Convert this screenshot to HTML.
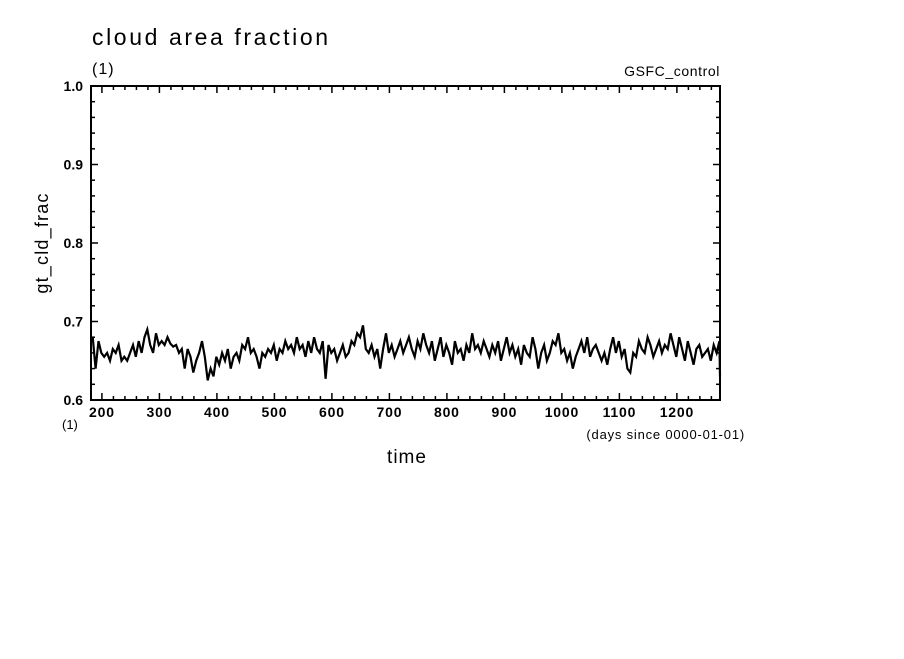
<!DOCTYPE html>
<html><head><meta charset="utf-8"><style>
body{margin:0;background:#fff;}
svg text{font-family:"Liberation Sans",sans-serif;fill:#000;}
</style></head><body>
<svg id="chart" width="904" height="654" xmlns="http://www.w3.org/2000/svg">
<rect width="904" height="654" fill="#fff"/>
<text x="92" y="45" font-size="23" letter-spacing="2.6">cloud area fraction</text>
<text x="92" y="74" font-size="16" letter-spacing="1">(1)</text>
<text x="720" y="76" font-size="14" text-anchor="end" letter-spacing="0.6">GSFC_control</text>
<text transform="translate(48,243) rotate(-90)" font-size="18" text-anchor="middle" letter-spacing="1.2">gt_cld_frac</text>
<text x="407" y="463" font-size="19" text-anchor="middle" letter-spacing="1">time</text>
<text x="62" y="429" font-size="13">(1)</text>
<text x="745" y="439" font-size="13" text-anchor="end" letter-spacing="0.8">(days since 0000-01-01)</text>
<g id="axes"></g>
<path id="series" fill="none" stroke="#000" stroke-width="2.2" stroke-linejoin="miter"/>
</svg>
<script>
const xStart = 182;
const xStep = 5;
const values = [
0.68,0.64,0.675,0.66,0.655,0.66,0.65,0.665,0.66,0.67,0.65,0.655,0.65,0.66,0.67,0.655,0.675,0.66,0.68,0.69,
0.67,0.66,0.685,0.67,0.675,0.67,0.68,0.672,0.668,0.67,0.66,0.665,0.64,0.665,0.655,0.635,0.65,0.66,0.675,0.655,
0.625,0.64,0.63,0.655,0.645,0.66,0.65,0.665,0.64,0.655,0.66,0.65,0.67,0.665,0.68,0.66,0.665,0.655,0.64,0.66,
0.655,0.665,0.66,0.67,0.65,0.665,0.66,0.675,0.665,0.67,0.66,0.68,0.665,0.67,0.655,0.675,0.66,0.68,0.665,0.66,
0.675,0.627,0.67,0.66,0.665,0.65,0.66,0.67,0.655,0.66,0.675,0.67,0.685,0.68,0.695,0.665,0.66,0.67,0.655,0.665,
0.64,0.665,0.685,0.66,0.67,0.655,0.665,0.675,0.66,0.67,0.68,0.665,0.655,0.675,0.665,0.685,0.67,0.66,0.675,0.65,
0.665,0.68,0.655,0.67,0.66,0.645,0.675,0.66,0.665,0.65,0.67,0.66,0.685,0.665,0.67,0.66,0.675,0.665,0.655,0.67,
0.66,0.675,0.65,0.665,0.68,0.66,0.67,0.655,0.665,0.645,0.67,0.66,0.655,0.68,0.665,0.64,0.66,0.67,0.65,0.66,
0.675,0.67,0.685,0.66,0.665,0.65,0.66,0.64,0.655,0.665,0.675,0.66,0.68,0.655,0.665,0.67,0.66,0.65,0.66,0.645,
0.665,0.68,0.66,0.675,0.655,0.665,0.64,0.635,0.66,0.655,0.675,0.665,0.66,0.68,0.67,0.655,0.665,0.675,0.66,0.67,
0.665,0.685,0.67,0.655,0.68,0.665,0.65,0.675,0.66,0.645,0.665,0.67,0.655,0.66,0.665,0.65,0.67,0.66,0.675,0.63
];
const xTicks = [200,300,400,500,600,700,800,900,1000,1100,1200];
const yTicks = [0.6,0.7,0.8,0.9,1.0];
const xMin = 181, xMax = 1275, yMin = 0.6, yMax = 1.0;
const L = 91, R = 720, T = 86, B = 400;
const sx = v => L + (v - xMin) / (xMax - xMin) * (R - L);
const sy = v => B - (v - yMin) / (yMax - yMin) * (B - T);
const NS = "http://www.w3.org/2000/svg";
const g = document.getElementById('axes');
function mk(tag, attrs){const e=document.createElementNS(NS,tag);for(const k in attrs)e.setAttribute(k,attrs[k]);g.appendChild(e);return e;}
const frame = mk('rect',{x:L,y:T,width:R-L,height:B-T,fill:'none',stroke:'#000','stroke-width':2});


for(let v=200; v<=xMax; v+=20){
  const x=sx(v), len = (v%100===0)?7:4;
  const t1 = mk('line',{x1:x,y1:B,x2:x,y2:B-len,stroke:'#000','stroke-width':1.5});
  
  
  const t2 = mk('line',{x1:x,y1:T,x2:x,y2:T+len,stroke:'#000','stroke-width':1.5});
  
  
}
for(let i=0;i<=20;i++){
  const v=yMin+i*0.02, y=sy(v), len=(i%5===0)?7:4;
  const t1 = mk('line',{x1:L,y1:y,x2:L+len,y2:y,stroke:'#000','stroke-width':1.5});
  
  
  const t2 = mk('line',{x1:R,y1:y,x2:R-len,y2:y,stroke:'#000','stroke-width':1.5});
  
  
}
xTicks.forEach(v=>{
  const t = mk('text',{x:sx(v),y:B+17,'font-size':14,'text-anchor':'middle','letter-spacing':0.8,'font-weight':'bold'});
  t.textContent = v;
  
  
});
yTicks.forEach(v=>{
  const t = mk('text',{x:L-8,y:sy(v)+5,'font-size':14,'text-anchor':'end','font-weight':'bold'});
  t.textContent = v.toFixed(1);
  
  
});
let d='';
values.forEach((v,i)=>{
  const x=sx(Math.min(xMax,Math.max(xMin,xStart+i*xStep+2))), y=sy(v);
  d += (i===0?'M':'L')+x.toFixed(1)+','+y.toFixed(1);
});
document.getElementById('series').setAttribute('d', d);
</script>
</body></html>
